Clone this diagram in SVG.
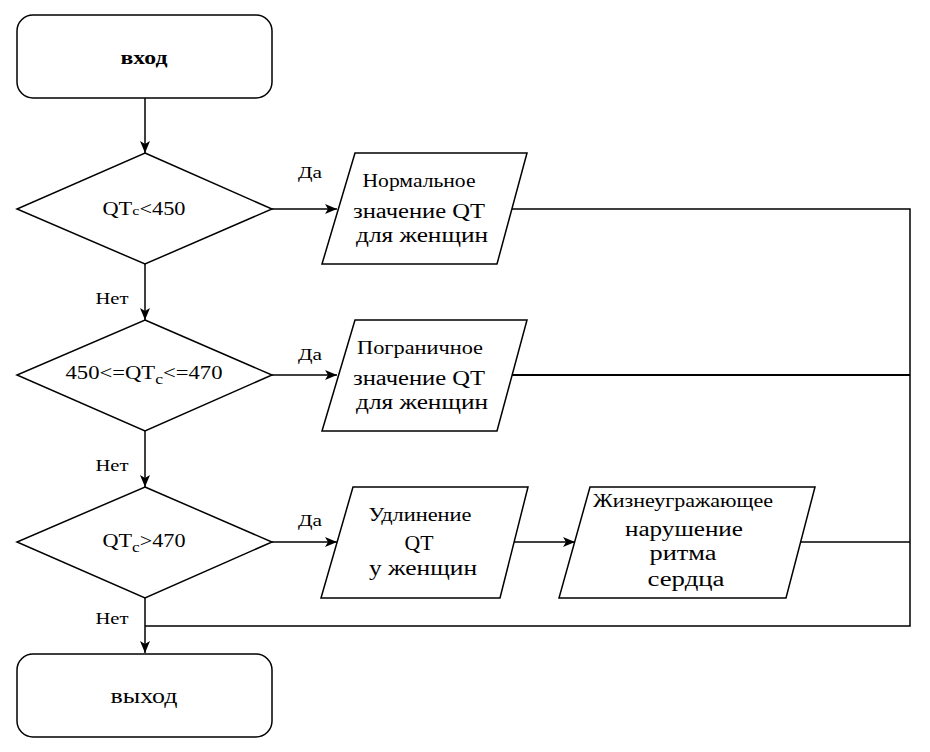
<svg xmlns="http://www.w3.org/2000/svg" width="930" height="752" viewBox="0 0 930 752" font-family="'Liberation Serif', 'Times New Roman', serif">
<defs>
<marker id="arr" markerUnits="userSpaceOnUse" markerWidth="14" markerHeight="12" refX="12" refY="6" orient="auto">
<path d="M0,1 L12,6 L0,11 L3,6 Z" fill="#000"/>
</marker>
<style>
.shape{fill:#fff;stroke:#000;stroke-width:1.5}
.conn{fill:none;stroke:#000;stroke-width:1.5}
text{fill:#000;text-anchor:middle}
.lbl{font-size:17px}
.dt{font-size:18px}
.pt{font-size:20px}
.sm{font-size:18px}
</style>
</defs>
<rect width="930" height="752" fill="#fff"/>
<g id="connectors">
<line class="conn" x1="145" y1="98" x2="145" y2="153" marker-end="url(#arr)"/>
<line class="conn" x1="145" y1="264" x2="145" y2="320" marker-end="url(#arr)"/>
<line class="conn" x1="145" y1="431" x2="145" y2="487" marker-end="url(#arr)"/>
<line class="conn" x1="145" y1="598" x2="145" y2="653" marker-end="url(#arr)"/>
<line class="conn" x1="272" y1="209" x2="337" y2="209" marker-end="url(#arr)"/>
<line class="conn" x1="272" y1="375" x2="337" y2="375" marker-end="url(#arr)"/>
<line class="conn" x1="272" y1="542" x2="337" y2="542" marker-end="url(#arr)"/>
<line class="conn" x1="512" y1="542" x2="575" y2="542" marker-end="url(#arr)"/>
<polyline class="conn" points="512,209 910,209 910,626 145,626"/>
<line class="conn" x1="512" y1="375" x2="910" y2="375" style="stroke-width:2"/>
<line class="conn" x1="800" y1="542" x2="910" y2="542"/>
<text class="lbl" x="310" y="178" textLength="24" lengthAdjust="spacingAndGlyphs">Да</text>
<text class="lbl" x="310" y="360" textLength="24" lengthAdjust="spacingAndGlyphs">Да</text>
<text class="lbl" x="310" y="526" textLength="24" lengthAdjust="spacingAndGlyphs">Да</text>
<text class="lbl" x="112" y="304" textLength="33" lengthAdjust="spacingAndGlyphs">Нет</text>
<text class="lbl" x="112" y="471" textLength="33" lengthAdjust="spacingAndGlyphs">Нет</text>
<text class="lbl" x="112" y="624" textLength="33" lengthAdjust="spacingAndGlyphs">Нет</text>
</g>
<g id="start">
<rect class="shape" x="17" y="15" width="255" height="83" rx="16"/>
<text x="144" y="64" style="font-size:19px;font-weight:bold" textLength="47" lengthAdjust="spacingAndGlyphs">вход</text>
</g>
<g id="cond1">
<polygon class="shape" points="145,153 272,209 145,264 17,209"/>
<text class="dt" x="144" y="215" textLength="83" lengthAdjust="spacingAndGlyphs">QT<tspan style="font-size:13px">c</tspan>&lt;450</text>
</g>
<g id="cond2">
<polygon class="shape" points="145,320 272,375 145,431 17,375"/>
<text class="dt" x="144" y="379" textLength="157" lengthAdjust="spacingAndGlyphs">450&lt;=QT<tspan style="font-size:14px" dy="5">c</tspan><tspan dy="-5">&lt;=470</tspan></text>
</g>
<g id="cond3">
<polygon class="shape" points="145,487 272,542 145,598 17,542"/>
<text class="dt" x="144" y="547" textLength="83" lengthAdjust="spacingAndGlyphs">QT<tspan style="font-size:14px" dy="5">c</tspan><tspan dy="-5">&gt;470</tspan></text>
</g>
<g id="normal">
<polygon class="shape" points="355,153 527,153 497,264 322,264"/>
<text class="sm" x="419" y="187" textLength="113" lengthAdjust="spacingAndGlyphs">Нормальное</text>
<text class="pt" x="419" y="218" textLength="132" lengthAdjust="spacingAndGlyphs">значение QT</text>
<text class="pt" x="422" y="242" textLength="132" lengthAdjust="spacingAndGlyphs">для женщин</text>
</g>
<g id="border">
<polygon class="shape" points="355,320 527,320 497,431 322,431"/>
<text class="sm" x="420" y="354" textLength="126" lengthAdjust="spacingAndGlyphs">Пограничное</text>
<text class="pt" x="419" y="385" textLength="132" lengthAdjust="spacingAndGlyphs">значение QT</text>
<text class="pt" x="422" y="409" textLength="132" lengthAdjust="spacingAndGlyphs">для женщин</text>
</g>
<g id="long">
<polygon class="shape" points="353,487 528,487 500,598 321,598"/>
<text class="sm" x="420" y="521" textLength="103" lengthAdjust="spacingAndGlyphs">Удлинение</text>
<text class="pt" x="419" y="550" textLength="29" lengthAdjust="spacingAndGlyphs">QT</text>
<text class="pt" x="423" y="575" textLength="108" lengthAdjust="spacingAndGlyphs">у женщин</text>
</g>
<g id="danger">
<polygon class="shape" points="590,487 815,487 786,598 559,598"/>
<text class="sm" x="683" y="507" textLength="180" lengthAdjust="spacingAndGlyphs">Жизнеугражающее</text>
<text class="pt" x="684" y="536" textLength="118" lengthAdjust="spacingAndGlyphs">нарушение</text>
<text class="pt" x="683" y="560" textLength="67" lengthAdjust="spacingAndGlyphs">ритма</text>
<text class="pt" x="686" y="586" textLength="77" lengthAdjust="spacingAndGlyphs">сердца</text>
</g>
<g id="end">
<rect class="shape" x="17" y="654" width="255" height="83" rx="16"/>
<text x="144" y="703" style="font-size:20px" textLength="67" lengthAdjust="spacingAndGlyphs">выход</text>
</g>
</svg>
